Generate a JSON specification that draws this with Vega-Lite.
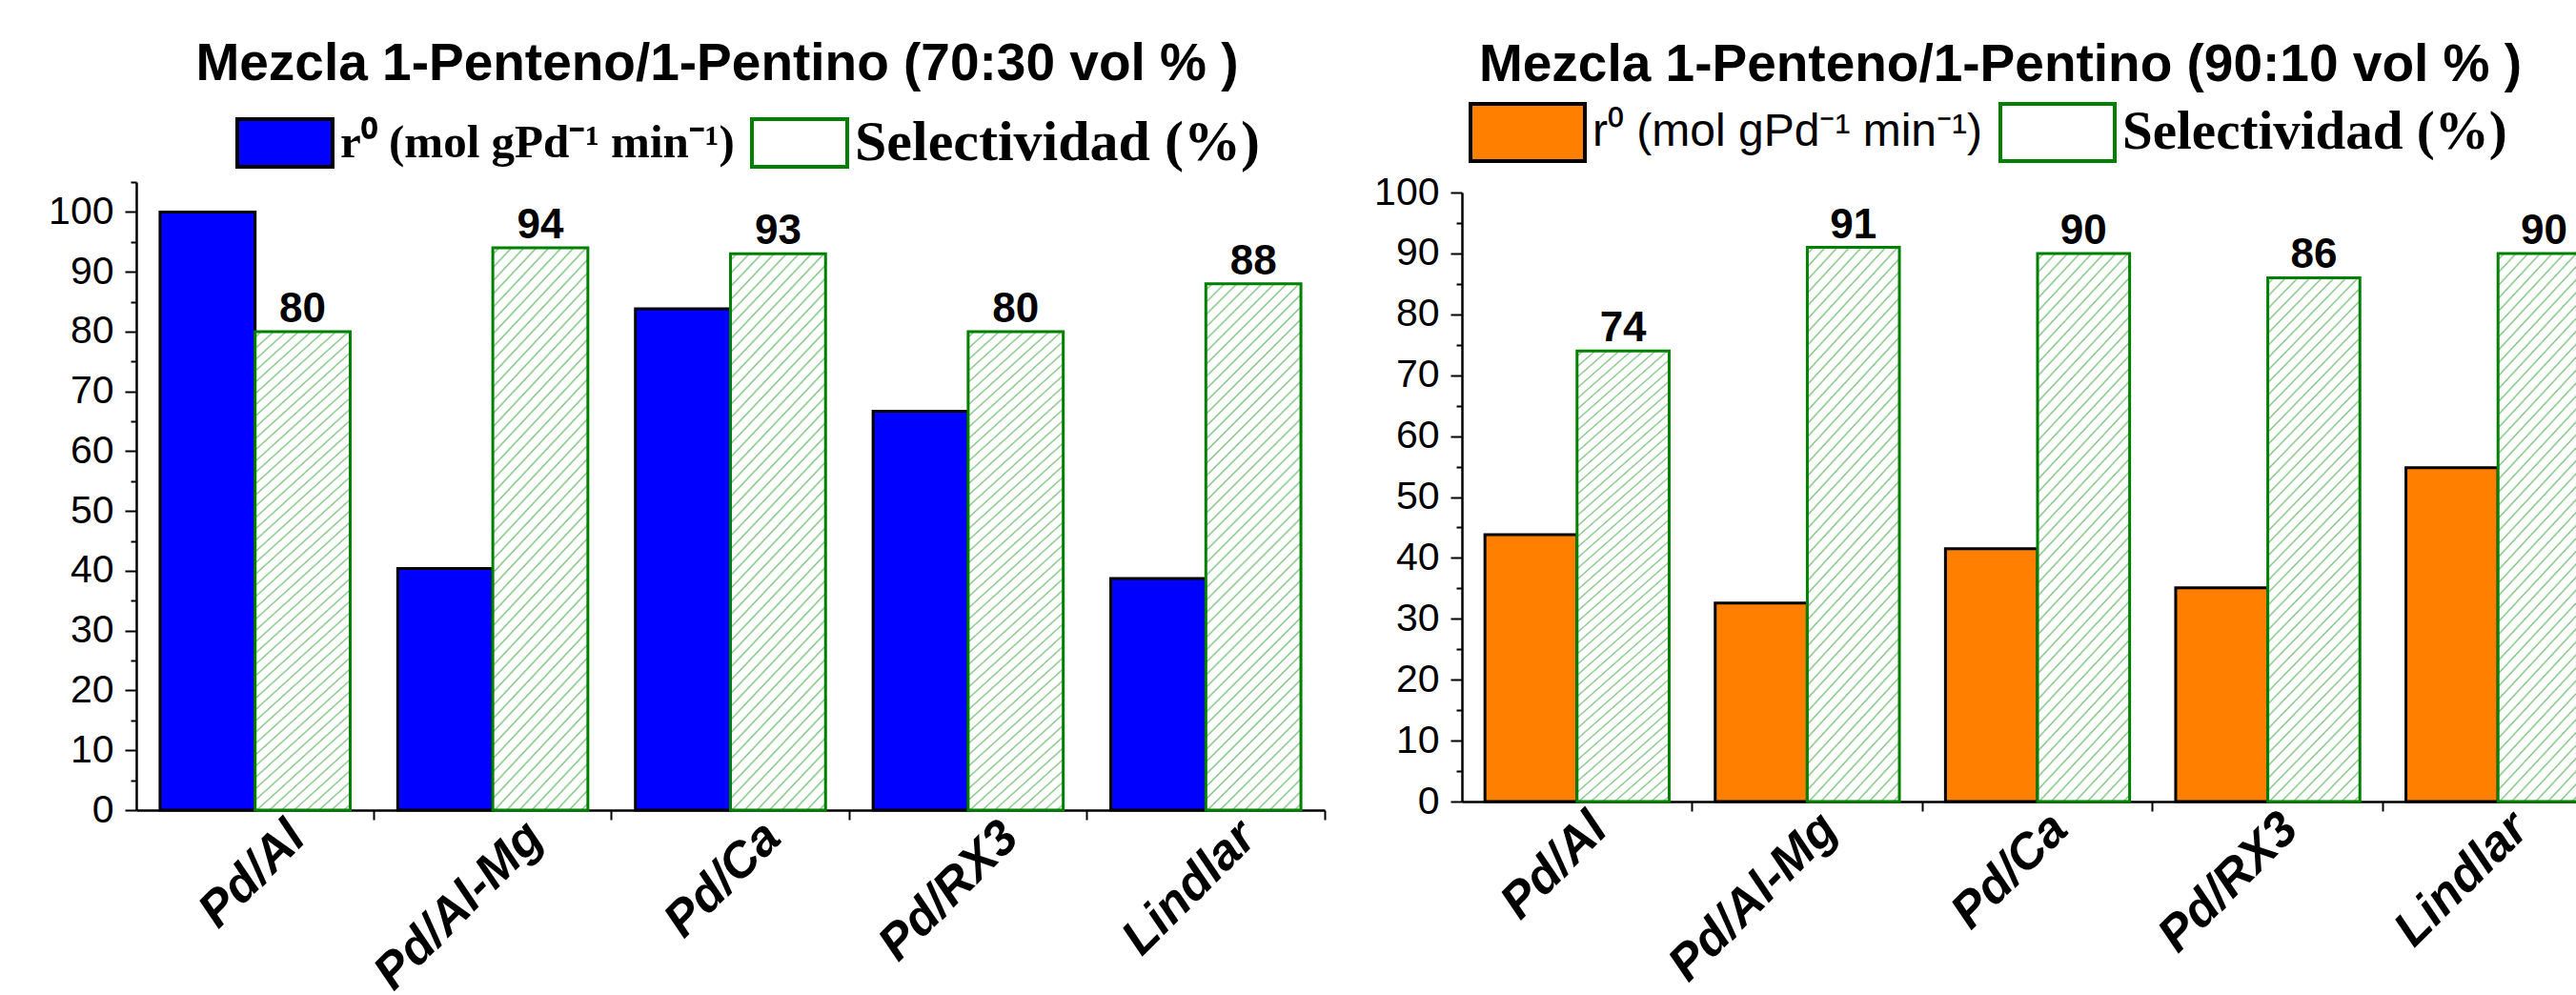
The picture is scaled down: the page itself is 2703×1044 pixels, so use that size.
{
  "$schema": "https://vega.github.io/schema/vega-lite/v6.json",
  "background": "white",
  "padding": {"left": 50, "top": 40, "right": 0, "bottom": 0},
  "spacing": 50,
  "datasets": {
    "izq": [
      {"catalizador": "Pd/Al", "serie": "r⁰ (mol gPd⁻¹ min⁻¹)", "valor": 100},
      {"catalizador": "Pd/Al", "serie": "Selectividad (%)", "valor": 80},
      {"catalizador": "Pd/Al-Mg", "serie": "r⁰ (mol gPd⁻¹ min⁻¹)", "valor": 40.4},
      {"catalizador": "Pd/Al-Mg", "serie": "Selectividad (%)", "valor": 94},
      {"catalizador": "Pd/Ca", "serie": "r⁰ (mol gPd⁻¹ min⁻¹)", "valor": 83.8},
      {"catalizador": "Pd/Ca", "serie": "Selectividad (%)", "valor": 93},
      {"catalizador": "Pd/RX3", "serie": "r⁰ (mol gPd⁻¹ min⁻¹)", "valor": 66.7},
      {"catalizador": "Pd/RX3", "serie": "Selectividad (%)", "valor": 80},
      {"catalizador": "Lindlar", "serie": "r⁰ (mol gPd⁻¹ min⁻¹)", "valor": 38.7},
      {"catalizador": "Lindlar", "serie": "Selectividad (%)", "valor": 88}
    ],
    "der": [
      {"catalizador": "Pd/Al", "serie": "r⁰ (mol gPd⁻¹ min⁻¹)", "valor": 43.8},
      {"catalizador": "Pd/Al", "serie": "Selectividad (%)", "valor": 74},
      {"catalizador": "Pd/Al-Mg", "serie": "r⁰ (mol gPd⁻¹ min⁻¹)", "valor": 32.6},
      {"catalizador": "Pd/Al-Mg", "serie": "Selectividad (%)", "valor": 91},
      {"catalizador": "Pd/Ca", "serie": "r⁰ (mol gPd⁻¹ min⁻¹)", "valor": 41.5},
      {"catalizador": "Pd/Ca", "serie": "Selectividad (%)", "valor": 90},
      {"catalizador": "Pd/RX3", "serie": "r⁰ (mol gPd⁻¹ min⁻¹)", "valor": 35.1},
      {"catalizador": "Pd/RX3", "serie": "Selectividad (%)", "valor": 86},
      {"catalizador": "Lindlar", "serie": "r⁰ (mol gPd⁻¹ min⁻¹)", "valor": 54.8},
      {"catalizador": "Lindlar", "serie": "Selectividad (%)", "valor": 90}
    ]
  },
  "config": {
    "view": {"stroke": null},
    "axis": {"domainColor": "black", "tickColor": "black", "labelColor": "black", "grid": false, "labelFont": "Liberation Sans", "domainWidth": 2.5, "tickWidth": 2, "title": null},
    "legend": {"orient": "none", "direction": "horizontal", "title": null, "symbolType": "M-1,-0.5H1V0.5H-1Z", "labelFont": "Liberation Serif", "labelFontWeight": "bold", "labelColor": "black", "labelLimit": 2000, "symbolStrokeWidth": 4}
  },
  "resolve": {
    "scale": {"x": "independent", "y": "independent", "xOffset": "independent", "fill": "independent", "stroke": "independent"},
    "legend": {"fill": "independent", "stroke": "independent"}
  },
  "hconcat": [
    {
      "width": 1247,
      "height": 659,
      "title": {"text": "Mezcla 1-Penteno/1-Pentino (70:30 vol % )", "font": "Liberation Sans", "fontWeight": "bold", "fontSize": 55, "color": "black", "anchor": "middle", "frame": "group", "dx": -14, "offset": 2},
      "data": {"name": "izq"},
      "encoding": {
        "x": {"field": "catalizador", "type": "nominal", "sort": null, "scale": {"paddingInner": 0.2, "paddingOuter": 0.1},
          "axis": {"labelAngle": -45, "labelAlign": "right", "labelBaseline": "middle", "labelFontSize": 52, "labelFontWeight": "bold", "labelFontStyle": "italic", "labelPadding": 10, "labelOffset": 44, "labelLimit": 600, "tickSize": 10, "bandPosition": 1.125}},
        "xOffset": {"field": "serie", "type": "nominal", "sort": null, "scale": {"domain": ["r⁰ (mol gPd⁻¹ min⁻¹)", "Selectividad (%)"], "paddingInner": 0, "paddingOuter": 0}},
        "y": {"field": "valor", "type": "quantitative", "scale": {"domain": [0, 105], "nice": false},
          "axis": {"values": [0, 5, 10, 15, 20, 25, 30, 35, 40, 45, 50, 55, 60, 65, 70, 75, 80, 85, 90, 95, 100, 105], "labelExpr": "datum.value % 10 === 0 ? datum.label : ''", "labelOverlap": false, "labelFontSize": 41, "labelPadding": 12, "tickSize": {"condition": {"test": "datum.value % 10 === 0", "value": 12}, "value": 6}}}
      },
      "layer": [
        {
          "mark": {"type": "bar", "strokeWidth": 3},
          "encoding": {
            "fill": {"field": "serie", "type": "nominal", "sort": null,
              "scale": {"domain": ["r⁰ (mol gPd⁻¹ min⁻¹)", "Selectividad (%)"], "range": ["#0000ff", "#ffffff"]},
              "condition": {"test": "datum.serie === 'Selectividad (%)'", "value": {"gradient": "linear", "x1": 0, "y1": 0, "x2": 0.206, "y2": 1.143, "stops": [
                {"offset":0.007,"color":"white"},{"offset":0.010,"color":"#7cc47c"},{"offset":0.013,"color":"white"},
                {"offset":0.027,"color":"white"},{"offset":0.030,"color":"#7cc47c"},{"offset":0.033,"color":"white"},
                {"offset":0.047,"color":"white"},{"offset":0.050,"color":"#7cc47c"},{"offset":0.053,"color":"white"},
                {"offset":0.067,"color":"white"},{"offset":0.070,"color":"#7cc47c"},{"offset":0.073,"color":"white"},
                {"offset":0.087,"color":"white"},{"offset":0.090,"color":"#7cc47c"},{"offset":0.093,"color":"white"},
                {"offset":0.107,"color":"white"},{"offset":0.110,"color":"#7cc47c"},{"offset":0.113,"color":"white"},
                {"offset":0.127,"color":"white"},{"offset":0.130,"color":"#7cc47c"},{"offset":0.133,"color":"white"},
                {"offset":0.147,"color":"white"},{"offset":0.150,"color":"#7cc47c"},{"offset":0.153,"color":"white"},
                {"offset":0.167,"color":"white"},{"offset":0.170,"color":"#7cc47c"},{"offset":0.173,"color":"white"},
                {"offset":0.187,"color":"white"},{"offset":0.190,"color":"#7cc47c"},{"offset":0.193,"color":"white"},
                {"offset":0.207,"color":"white"},{"offset":0.210,"color":"#7cc47c"},{"offset":0.213,"color":"white"},
                {"offset":0.227,"color":"white"},{"offset":0.230,"color":"#7cc47c"},{"offset":0.233,"color":"white"},
                {"offset":0.247,"color":"white"},{"offset":0.250,"color":"#7cc47c"},{"offset":0.253,"color":"white"},
                {"offset":0.267,"color":"white"},{"offset":0.270,"color":"#7cc47c"},{"offset":0.273,"color":"white"},
                {"offset":0.287,"color":"white"},{"offset":0.290,"color":"#7cc47c"},{"offset":0.293,"color":"white"},
                {"offset":0.307,"color":"white"},{"offset":0.310,"color":"#7cc47c"},{"offset":0.313,"color":"white"},
                {"offset":0.327,"color":"white"},{"offset":0.330,"color":"#7cc47c"},{"offset":0.333,"color":"white"},
                {"offset":0.347,"color":"white"},{"offset":0.350,"color":"#7cc47c"},{"offset":0.353,"color":"white"},
                {"offset":0.367,"color":"white"},{"offset":0.370,"color":"#7cc47c"},{"offset":0.373,"color":"white"},
                {"offset":0.387,"color":"white"},{"offset":0.390,"color":"#7cc47c"},{"offset":0.393,"color":"white"},
                {"offset":0.407,"color":"white"},{"offset":0.410,"color":"#7cc47c"},{"offset":0.413,"color":"white"},
                {"offset":0.427,"color":"white"},{"offset":0.430,"color":"#7cc47c"},{"offset":0.433,"color":"white"},
                {"offset":0.447,"color":"white"},{"offset":0.450,"color":"#7cc47c"},{"offset":0.453,"color":"white"},
                {"offset":0.467,"color":"white"},{"offset":0.470,"color":"#7cc47c"},{"offset":0.473,"color":"white"},
                {"offset":0.487,"color":"white"},{"offset":0.490,"color":"#7cc47c"},{"offset":0.493,"color":"white"},
                {"offset":0.507,"color":"white"},{"offset":0.510,"color":"#7cc47c"},{"offset":0.513,"color":"white"},
                {"offset":0.527,"color":"white"},{"offset":0.530,"color":"#7cc47c"},{"offset":0.533,"color":"white"},
                {"offset":0.547,"color":"white"},{"offset":0.550,"color":"#7cc47c"},{"offset":0.553,"color":"white"},
                {"offset":0.567,"color":"white"},{"offset":0.570,"color":"#7cc47c"},{"offset":0.573,"color":"white"},
                {"offset":0.587,"color":"white"},{"offset":0.590,"color":"#7cc47c"},{"offset":0.593,"color":"white"},
                {"offset":0.607,"color":"white"},{"offset":0.610,"color":"#7cc47c"},{"offset":0.613,"color":"white"},
                {"offset":0.627,"color":"white"},{"offset":0.630,"color":"#7cc47c"},{"offset":0.633,"color":"white"},
                {"offset":0.647,"color":"white"},{"offset":0.650,"color":"#7cc47c"},{"offset":0.653,"color":"white"},
                {"offset":0.667,"color":"white"},{"offset":0.670,"color":"#7cc47c"},{"offset":0.673,"color":"white"},
                {"offset":0.687,"color":"white"},{"offset":0.690,"color":"#7cc47c"},{"offset":0.693,"color":"white"},
                {"offset":0.707,"color":"white"},{"offset":0.710,"color":"#7cc47c"},{"offset":0.713,"color":"white"},
                {"offset":0.727,"color":"white"},{"offset":0.730,"color":"#7cc47c"},{"offset":0.733,"color":"white"},
                {"offset":0.747,"color":"white"},{"offset":0.750,"color":"#7cc47c"},{"offset":0.753,"color":"white"},
                {"offset":0.767,"color":"white"},{"offset":0.770,"color":"#7cc47c"},{"offset":0.773,"color":"white"},
                {"offset":0.787,"color":"white"},{"offset":0.790,"color":"#7cc47c"},{"offset":0.793,"color":"white"},
                {"offset":0.807,"color":"white"},{"offset":0.810,"color":"#7cc47c"},{"offset":0.813,"color":"white"},
                {"offset":0.827,"color":"white"},{"offset":0.830,"color":"#7cc47c"},{"offset":0.833,"color":"white"},
                {"offset":0.847,"color":"white"},{"offset":0.850,"color":"#7cc47c"},{"offset":0.853,"color":"white"},
                {"offset":0.867,"color":"white"},{"offset":0.870,"color":"#7cc47c"},{"offset":0.873,"color":"white"},
                {"offset":0.887,"color":"white"},{"offset":0.890,"color":"#7cc47c"},{"offset":0.893,"color":"white"},
                {"offset":0.907,"color":"white"},{"offset":0.910,"color":"#7cc47c"},{"offset":0.913,"color":"white"},
                {"offset":0.927,"color":"white"},{"offset":0.930,"color":"#7cc47c"},{"offset":0.933,"color":"white"},
                {"offset":0.947,"color":"white"},{"offset":0.950,"color":"#7cc47c"},{"offset":0.953,"color":"white"},
                {"offset":0.967,"color":"white"},{"offset":0.970,"color":"#7cc47c"},{"offset":0.973,"color":"white"},
                {"offset":0.987,"color":"white"},{"offset":0.990,"color":"#7cc47c"},{"offset":0.993,"color":"white"}
              ]}},
              "legend": {"legendX": 104, "legendY": -93, "symbolSize": 10000, "labelFontSize": 56, "labelOffset": 6, "columnPadding": 10,
                "encode": {
                  "labels": {"update": {
                    "fontSize": [{"test": "datum.value === 'Selectividad (%)'", "value": 60}, {"value": 49}]
                  }},
                  "symbols": {"update": {
                  "fill": [{"test": "datum.value === 'Selectividad (%)'", "value": {"gradient": "linear", "x1": 0, "y1": 0, "x2": 1.2, "y2": 0.6, "stops": [
                    {"offset":0.03,"color":"white"},{"offset":0.0425,"color":"#7cc47c"},{"offset":0.055,"color":"white"},
                    {"offset":0.113,"color":"white"},{"offset":0.1255,"color":"#7cc47c"},{"offset":0.138,"color":"white"},
                    {"offset":0.197,"color":"white"},{"offset":0.2095,"color":"#7cc47c"},{"offset":0.222,"color":"white"},
                    {"offset":0.28,"color":"white"},{"offset":0.2925,"color":"#7cc47c"},{"offset":0.305,"color":"white"},
                    {"offset":0.363,"color":"white"},{"offset":0.3755,"color":"#7cc47c"},{"offset":0.388,"color":"white"},
                    {"offset":0.447,"color":"white"},{"offset":0.4595,"color":"#7cc47c"},{"offset":0.472,"color":"white"},
                    {"offset":0.53,"color":"white"},{"offset":0.5425,"color":"#7cc47c"},{"offset":0.555,"color":"white"},
                    {"offset":0.613,"color":"white"},{"offset":0.6255,"color":"#7cc47c"},{"offset":0.638,"color":"white"},
                    {"offset":0.697,"color":"white"},{"offset":0.7095,"color":"#7cc47c"},{"offset":0.722,"color":"white"},
                    {"offset":0.78,"color":"white"},{"offset":0.7925,"color":"#7cc47c"},{"offset":0.805,"color":"white"},
                    {"offset":0.863,"color":"white"},{"offset":0.8755,"color":"#7cc47c"},{"offset":0.888,"color":"white"},
                    {"offset":0.947,"color":"white"},{"offset":0.9595,"color":"#7cc47c"},{"offset":0.972,"color":"white"}
                  ]}}, {"value": "#0000ff"}],
                  "stroke": [{"test": "datum.value === 'Selectividad (%)'", "value": "#008000"}, {"value": "#000000"}],
                  "strokeWidth": {"value": 4}
                }}}
              }
            },
            "stroke": {"field": "serie", "type": "nominal", "sort": null, "scale": {"domain": ["r⁰ (mol gPd⁻¹ min⁻¹)", "Selectividad (%)"], "range": ["#000000", "#008000"]}, "legend": null}
          }
        },
        {
          "transform": [{"filter": "datum.serie === 'Selectividad (%)'"}],
          "mark": {"type": "text", "font": "Liberation Sans", "fontWeight": "bold", "fontSize": 44, "baseline": "alphabetic", "dy": -10, "color": "black"},
          "encoding": {"text": {"field": "valor", "type": "quantitative", "format": "d"}}
        }
      ]
    },
    {
      "width": 1208,
      "height": 650,
      "title": {"text": "Mezcla 1-Penteno/1-Pentino (90:10 vol % )", "font": "Liberation Sans", "fontWeight": "bold", "fontSize": 55, "color": "black", "anchor": "middle", "frame": "group", "dx": -39, "offset": -20},
      "data": {"name": "der"},
      "encoding": {
        "x": {"field": "catalizador", "type": "nominal", "sort": null, "scale": {"paddingInner": 0.2, "paddingOuter": 0.1},
          "axis": {"labelAngle": -45, "labelAlign": "right", "labelBaseline": "middle", "labelFontSize": 52, "labelFontWeight": "bold", "labelFontStyle": "italic", "labelPadding": 10, "labelOffset": 23, "labelLimit": 600, "tickSize": 10, "bandPosition": 1.125}},
        "xOffset": {"field": "serie", "type": "nominal", "sort": null, "scale": {"domain": ["r⁰ (mol gPd⁻¹ min⁻¹)", "Selectividad (%)"], "paddingInner": 0, "paddingOuter": 0}},
        "y": {"field": "valor", "type": "quantitative", "scale": {"domain": [0, 100], "nice": false, "range": [650, 11]},
          "axis": {"values": [0, 5, 10, 15, 20, 25, 30, 35, 40, 45, 50, 55, 60, 65, 70, 75, 80, 85, 90, 95, 100], "labelExpr": "datum.value % 10 === 0 ? datum.label : ''", "labelOverlap": false, "labelFontSize": 41, "labelPadding": 12, "tickSize": {"condition": {"test": "datum.value % 10 === 0", "value": 12}, "value": 6}}}
      },
      "layer": [
        {
          "mark": {"type": "bar", "strokeWidth": 3},
          "encoding": {
            "fill": {"field": "serie", "type": "nominal", "sort": null,
              "scale": {"domain": ["r⁰ (mol gPd⁻¹ min⁻¹)", "Selectividad (%)"], "range": ["#ff8000", "#ffffff"]},
              "condition": {"test": "datum.serie === 'Selectividad (%)'", "value": {"gradient": "linear", "x1": 0, "y1": 0, "x2": 0.206, "y2": 1.143, "stops": [
                {"offset":0.007,"color":"white"},{"offset":0.010,"color":"#7cc47c"},{"offset":0.013,"color":"white"},
                {"offset":0.027,"color":"white"},{"offset":0.030,"color":"#7cc47c"},{"offset":0.033,"color":"white"},
                {"offset":0.047,"color":"white"},{"offset":0.050,"color":"#7cc47c"},{"offset":0.053,"color":"white"},
                {"offset":0.067,"color":"white"},{"offset":0.070,"color":"#7cc47c"},{"offset":0.073,"color":"white"},
                {"offset":0.087,"color":"white"},{"offset":0.090,"color":"#7cc47c"},{"offset":0.093,"color":"white"},
                {"offset":0.107,"color":"white"},{"offset":0.110,"color":"#7cc47c"},{"offset":0.113,"color":"white"},
                {"offset":0.127,"color":"white"},{"offset":0.130,"color":"#7cc47c"},{"offset":0.133,"color":"white"},
                {"offset":0.147,"color":"white"},{"offset":0.150,"color":"#7cc47c"},{"offset":0.153,"color":"white"},
                {"offset":0.167,"color":"white"},{"offset":0.170,"color":"#7cc47c"},{"offset":0.173,"color":"white"},
                {"offset":0.187,"color":"white"},{"offset":0.190,"color":"#7cc47c"},{"offset":0.193,"color":"white"},
                {"offset":0.207,"color":"white"},{"offset":0.210,"color":"#7cc47c"},{"offset":0.213,"color":"white"},
                {"offset":0.227,"color":"white"},{"offset":0.230,"color":"#7cc47c"},{"offset":0.233,"color":"white"},
                {"offset":0.247,"color":"white"},{"offset":0.250,"color":"#7cc47c"},{"offset":0.253,"color":"white"},
                {"offset":0.267,"color":"white"},{"offset":0.270,"color":"#7cc47c"},{"offset":0.273,"color":"white"},
                {"offset":0.287,"color":"white"},{"offset":0.290,"color":"#7cc47c"},{"offset":0.293,"color":"white"},
                {"offset":0.307,"color":"white"},{"offset":0.310,"color":"#7cc47c"},{"offset":0.313,"color":"white"},
                {"offset":0.327,"color":"white"},{"offset":0.330,"color":"#7cc47c"},{"offset":0.333,"color":"white"},
                {"offset":0.347,"color":"white"},{"offset":0.350,"color":"#7cc47c"},{"offset":0.353,"color":"white"},
                {"offset":0.367,"color":"white"},{"offset":0.370,"color":"#7cc47c"},{"offset":0.373,"color":"white"},
                {"offset":0.387,"color":"white"},{"offset":0.390,"color":"#7cc47c"},{"offset":0.393,"color":"white"},
                {"offset":0.407,"color":"white"},{"offset":0.410,"color":"#7cc47c"},{"offset":0.413,"color":"white"},
                {"offset":0.427,"color":"white"},{"offset":0.430,"color":"#7cc47c"},{"offset":0.433,"color":"white"},
                {"offset":0.447,"color":"white"},{"offset":0.450,"color":"#7cc47c"},{"offset":0.453,"color":"white"},
                {"offset":0.467,"color":"white"},{"offset":0.470,"color":"#7cc47c"},{"offset":0.473,"color":"white"},
                {"offset":0.487,"color":"white"},{"offset":0.490,"color":"#7cc47c"},{"offset":0.493,"color":"white"},
                {"offset":0.507,"color":"white"},{"offset":0.510,"color":"#7cc47c"},{"offset":0.513,"color":"white"},
                {"offset":0.527,"color":"white"},{"offset":0.530,"color":"#7cc47c"},{"offset":0.533,"color":"white"},
                {"offset":0.547,"color":"white"},{"offset":0.550,"color":"#7cc47c"},{"offset":0.553,"color":"white"},
                {"offset":0.567,"color":"white"},{"offset":0.570,"color":"#7cc47c"},{"offset":0.573,"color":"white"},
                {"offset":0.587,"color":"white"},{"offset":0.590,"color":"#7cc47c"},{"offset":0.593,"color":"white"},
                {"offset":0.607,"color":"white"},{"offset":0.610,"color":"#7cc47c"},{"offset":0.613,"color":"white"},
                {"offset":0.627,"color":"white"},{"offset":0.630,"color":"#7cc47c"},{"offset":0.633,"color":"white"},
                {"offset":0.647,"color":"white"},{"offset":0.650,"color":"#7cc47c"},{"offset":0.653,"color":"white"},
                {"offset":0.667,"color":"white"},{"offset":0.670,"color":"#7cc47c"},{"offset":0.673,"color":"white"},
                {"offset":0.687,"color":"white"},{"offset":0.690,"color":"#7cc47c"},{"offset":0.693,"color":"white"},
                {"offset":0.707,"color":"white"},{"offset":0.710,"color":"#7cc47c"},{"offset":0.713,"color":"white"},
                {"offset":0.727,"color":"white"},{"offset":0.730,"color":"#7cc47c"},{"offset":0.733,"color":"white"},
                {"offset":0.747,"color":"white"},{"offset":0.750,"color":"#7cc47c"},{"offset":0.753,"color":"white"},
                {"offset":0.767,"color":"white"},{"offset":0.770,"color":"#7cc47c"},{"offset":0.773,"color":"white"},
                {"offset":0.787,"color":"white"},{"offset":0.790,"color":"#7cc47c"},{"offset":0.793,"color":"white"},
                {"offset":0.807,"color":"white"},{"offset":0.810,"color":"#7cc47c"},{"offset":0.813,"color":"white"},
                {"offset":0.827,"color":"white"},{"offset":0.830,"color":"#7cc47c"},{"offset":0.833,"color":"white"},
                {"offset":0.847,"color":"white"},{"offset":0.850,"color":"#7cc47c"},{"offset":0.853,"color":"white"},
                {"offset":0.867,"color":"white"},{"offset":0.870,"color":"#7cc47c"},{"offset":0.873,"color":"white"},
                {"offset":0.887,"color":"white"},{"offset":0.890,"color":"#7cc47c"},{"offset":0.893,"color":"white"},
                {"offset":0.907,"color":"white"},{"offset":0.910,"color":"#7cc47c"},{"offset":0.913,"color":"white"},
                {"offset":0.927,"color":"white"},{"offset":0.930,"color":"#7cc47c"},{"offset":0.933,"color":"white"},
                {"offset":0.947,"color":"white"},{"offset":0.950,"color":"#7cc47c"},{"offset":0.953,"color":"white"},
                {"offset":0.967,"color":"white"},{"offset":0.970,"color":"#7cc47c"},{"offset":0.973,"color":"white"},
                {"offset":0.987,"color":"white"},{"offset":0.990,"color":"#7cc47c"},{"offset":0.993,"color":"white"}
              ]}},
              "legend": {"legendX": 7, "legendY": -114, "symbolSize": 14400, "labelFontSize": 54, "labelOffset": 6, "columnPadding": 10,
                "encode": {
                  "labels": {"update": {
                    "font": [{"test": "datum.value === 'Selectividad (%)'", "value": "Liberation Serif"}, {"value": "Liberation Sans"}],
                    "fontWeight": [{"test": "datum.value === 'Selectividad (%)'", "value": "bold"}, {"value": "normal"}],
                    "fontSize": [{"test": "datum.value === 'Selectividad (%)'", "value": 57}, {"value": 48}]
                  }},
                  "symbols": {"update": {
                  "fill": [{"test": "datum.value === 'Selectividad (%)'", "value": {"gradient": "linear", "x1": 0, "y1": 0, "x2": 1.2, "y2": 0.6, "stops": [
                    {"offset":0.03,"color":"white"},{"offset":0.0425,"color":"#7cc47c"},{"offset":0.055,"color":"white"},
                    {"offset":0.113,"color":"white"},{"offset":0.1255,"color":"#7cc47c"},{"offset":0.138,"color":"white"},
                    {"offset":0.197,"color":"white"},{"offset":0.2095,"color":"#7cc47c"},{"offset":0.222,"color":"white"},
                    {"offset":0.28,"color":"white"},{"offset":0.2925,"color":"#7cc47c"},{"offset":0.305,"color":"white"},
                    {"offset":0.363,"color":"white"},{"offset":0.3755,"color":"#7cc47c"},{"offset":0.388,"color":"white"},
                    {"offset":0.447,"color":"white"},{"offset":0.4595,"color":"#7cc47c"},{"offset":0.472,"color":"white"},
                    {"offset":0.53,"color":"white"},{"offset":0.5425,"color":"#7cc47c"},{"offset":0.555,"color":"white"},
                    {"offset":0.613,"color":"white"},{"offset":0.6255,"color":"#7cc47c"},{"offset":0.638,"color":"white"},
                    {"offset":0.697,"color":"white"},{"offset":0.7095,"color":"#7cc47c"},{"offset":0.722,"color":"white"},
                    {"offset":0.78,"color":"white"},{"offset":0.7925,"color":"#7cc47c"},{"offset":0.805,"color":"white"},
                    {"offset":0.863,"color":"white"},{"offset":0.8755,"color":"#7cc47c"},{"offset":0.888,"color":"white"},
                    {"offset":0.947,"color":"white"},{"offset":0.9595,"color":"#7cc47c"},{"offset":0.972,"color":"white"}
                  ]}}, {"value": "#ff8000"}],
                  "stroke": [{"test": "datum.value === 'Selectividad (%)'", "value": "#008000"}, {"value": "#000000"}],
                  "strokeWidth": {"value": 4}
                }}}
              }
            },
            "stroke": {"field": "serie", "type": "nominal", "sort": null, "scale": {"domain": ["r⁰ (mol gPd⁻¹ min⁻¹)", "Selectividad (%)"], "range": ["#000000", "#008000"]}, "legend": null}
          }
        },
        {
          "transform": [{"filter": "datum.serie === 'Selectividad (%)'"}],
          "mark": {"type": "text", "font": "Liberation Sans", "fontWeight": "bold", "fontSize": 44, "baseline": "alphabetic", "dy": -10, "color": "black"},
          "encoding": {"text": {"field": "valor", "type": "quantitative", "format": "d"}}
        }
      ]
    }
  ]
}
